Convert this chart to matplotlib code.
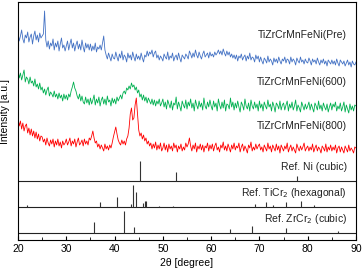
import matplotlib
matplotlib.use('Agg')
import matplotlib.pyplot as plt
from matplotlib.ticker import MultipleLocator
import numpy as np

plt.rcParams['font.family'] = ['Liberation Sans', 'DejaVu Sans']

# 2theta grid (0.25 deg) for the measured patterns
two_theta = np.arange(20, 90.001, 0.25)

# intensities (arbitrary units, stacking offset included)
pre = [207, 199, 204, 210, 201, 197, 205, 202, 208, 198, 203, 206, 196, 204, 209, 200, 205, 198, 207, 202,
       204, 206, 229, 200, 193, 199, 191, 197, 194, 201, 190, 197, 193, 199, 189, 196, 202, 192, 195, 189,
       194, 199, 190, 196, 201, 192, 197, 189, 195, 199, 191, 196, 190, 200, 193, 188, 197, 192, 196, 190,
       196, 189, 194, 190, 197, 188, 193, 191, 195, 190, 197, 204, 190, 185, 181, 187, 183, 179, 186, 182,
       181, 188, 183, 179, 186, 182, 189, 180, 185, 183, 178, 187, 182, 185, 180, 188, 183, 179, 186, 181,
       184, 180, 187, 182, 178, 185, 183, 189, 184, 188, 186, 190, 183, 187, 189, 182, 185, 180, 184, 182,
       179, 186, 183, 181, 188, 180, 184, 182, 187, 179, 183, 185, 180, 187, 182, 178, 185, 183, 181, 186,
       184, 181, 189, 186, 182, 187, 183, 190, 185, 182, 188, 184, 181, 186, 189, 183, 185, 187, 182, 188,
       184, 186, 183, 188, 185, 187, 190, 186, 189, 185, 191, 187, 184, 189, 185, 188, 183, 186, 182, 185,
       181, 185, 179, 184, 182, 186, 180, 183, 185, 179, 184, 181, 187, 180, 183, 182, 178, 185, 181, 184,
       178, 183, 179, 176, 182, 180, 177, 184, 178, 181, 179, 175, 182, 178, 181, 177, 183, 179, 176, 181,
       179, 183, 177, 181, 180, 176, 183, 178, 181, 179, 175, 182, 179, 177, 183, 178, 180, 176, 181, 178,
       177, 182, 179, 175, 181, 178, 180, 176, 182, 178, 175, 180, 177, 181, 176, 179, 174, 180, 178, 176,
       180, 176, 179, 175, 181, 177, 174, 180, 178, 176, 179, 174, 177, 180, 175, 178, 173, 179, 176, 175,
       178]
an600 = [169, 162, 167, 160, 165, 170, 158, 163, 161, 156, 163, 157, 159, 154, 161, 153, 156, 151, 157, 150,
         153, 147, 151, 145, 150, 153, 144, 148, 146, 143, 149, 143, 146, 141, 147, 142, 145, 139, 146, 141,
         145, 140, 146, 143, 149, 153, 158, 152, 149, 144, 141, 146, 139, 144, 138, 136, 143, 137, 141, 135,
         142, 136, 140, 145, 135, 141, 137, 143, 134, 140, 143, 136, 141, 135, 144, 138, 140, 134, 142, 137,
         141, 136, 143, 139, 142, 145, 141, 147, 149, 146, 152, 150, 154, 151, 157, 153, 155, 150, 153, 147,
         150, 143, 146, 140, 145, 139, 143, 137, 142, 139, 136, 141, 135, 140, 134, 139, 136, 141, 134, 137,
         141, 133, 138, 131, 140, 136, 132, 139, 130, 137, 135, 143, 131, 138, 134, 129, 139, 135, 132, 140,
         131, 138, 134, 141, 132, 137, 129, 140, 135, 131, 139, 133, 137, 130, 142, 134, 131, 138, 133, 140,
         134, 130, 139, 133, 137, 129, 141, 135, 131, 138, 132, 140, 129, 136, 135, 131, 142, 133, 138, 130,
         137, 132, 139, 133, 128, 138, 135, 130, 141, 134, 131, 137, 129, 140, 134, 131, 138, 132, 136, 129,
         139, 132, 136, 129, 138, 134, 131, 140, 133, 136, 129, 138, 134, 128, 137, 135, 131, 139, 130, 135,
         137, 130, 135, 139, 129, 136, 132, 138, 130, 134, 140, 129, 135, 132, 128, 138, 134, 130, 136, 131,
         134, 138, 130, 136, 132, 128, 137, 134, 130, 139, 131, 135, 129, 137, 133, 130, 136, 128, 133, 137,
         130, 136, 133, 138, 129, 134, 131, 137, 129, 133, 138, 128, 135, 131, 127, 136, 130, 134, 129, 135,
         134]
an800 = [121, 114, 119, 111, 117, 109, 114, 116, 107, 112, 105, 111, 104, 109, 102, 108, 101, 106, 99, 104,
         103, 98, 101, 95, 102, 97, 94, 100, 96, 101, 93, 99, 95, 101, 94, 98, 92, 99, 95, 97,
         101, 95, 98, 102, 94, 99, 96, 101, 93, 98, 102, 95, 97, 100, 94, 101, 96, 99, 95, 102,
         100, 104, 109, 102, 97, 99, 93, 96, 91, 95, 92, 89, 96, 91, 94, 90, 95, 92, 97, 103,
         108, 113, 106, 100, 97, 95, 100, 96, 99, 95, 101, 104, 112, 126, 132, 120, 122, 135, 142, 126,
         110, 104, 107, 101, 105, 99, 102, 96, 99, 94, 97, 91, 96, 92, 98, 90, 95, 91, 97, 89,
         92, 97, 90, 95, 88, 96, 91, 94, 89, 97, 92, 95, 88, 94, 91, 96, 89, 93, 90, 97,
         93, 96, 102, 94, 89, 95, 91, 97, 88, 94, 91, 96, 90, 95, 88, 94, 92, 97, 89, 95,
         91, 96, 89, 94, 97, 90, 93, 88, 95, 92, 98, 90, 94, 89, 96, 92, 88, 95, 91, 97,
         90, 94, 92, 97, 88, 93, 96, 89, 94, 91, 87, 95, 92, 98, 89, 93, 90, 96, 91, 94,
         96, 90, 93, 88, 95, 92, 89, 97, 91, 94, 88, 95, 92, 89, 96, 90, 94, 87, 95, 92,
         89, 94, 91, 97, 88, 92, 95, 89, 93, 90, 87, 96, 92, 89, 94, 90, 93, 97, 89, 92,
         94, 89, 93, 90, 96, 88, 92, 95, 89, 93, 91, 87, 94, 92, 89, 96, 88, 93, 90, 95,
         89, 93, 90, 95, 87, 92, 94, 88, 93, 90, 87, 94, 91, 88, 95, 89, 92, 90, 87, 93,
         92]

# reference patterns: peak positions and heights
ni_pos = [45.3, 52.7, 77.8]
ni_h = [20, 9, 5]
ticr2_pos = [21.9, 37.0, 40.5, 43.4, 43.8, 44.5, 45.8, 46.2, 46.5, 49.1,
             52.2, 69.0, 71.3, 72.9, 75.4, 78.7, 81.2]
ticr2_h = [2, 5, 10, 3, 22, 15, 4, 6, 6, 1, 1, 3, 5, 2, 5, 6, 2]
zrcr2_pos = [35.7, 42.0, 44.0, 64.0, 68.4, 75.4, 86.2]
zrcr2_h = [11, 22, 6, 4, 7, 5, 2]

labels = ['TiZrCrMnFeNi(Pre)', 'TiZrCrMnFeNi(600)', 'TiZrCrMnFeNi(800)',
          'Ref. Ni (cubic)', 'Ref. TiCr$_2$ (hexagonal)', 'Ref. ZrCr$_2$ (cubic)']
label_y = [205, 158, 114, 73, 47, 21]

fig = plt.figure(figsize=(3.64, 2.78), dpi=100)
ax = fig.add_axes([0.0495, 0.1367, 0.9285, 0.8561])

ax.plot(two_theta, pre, color='#4472C4', lw=0.6)
ax.plot(two_theta, an600, color='#00B050', lw=0.6)
ax.plot(two_theta, an800, color='#FF0000', lw=0.6)

# reference sticks, each on its own baseline
base_ni, base_ti, base_zr = 59, 33, 7
for b in (base_ni, base_ti, base_zr):
    ax.axhline(b, color='#222222', lw=0.8)
ax.vlines(ni_pos, base_ni, np.add(base_ni, ni_h), color='#333333', lw=0.8)
ax.vlines(ticr2_pos, base_ti, np.add(base_ti, ticr2_h), color='#333333', lw=0.8)
ax.vlines(zrcr2_pos, base_zr, np.add(base_zr, zrcr2_h), color='#333333', lw=0.8)

for t, y in zip(labels, label_y):
    ax.text(88.1, y, t, ha='right', va='center', fontsize=7.5, color='#222222')

ax.set_xlim(20, 90)
ax.set_ylim(0, 238)
ax.xaxis.set_major_locator(MultipleLocator(10))
ax.xaxis.set_minor_locator(MultipleLocator(5))
ax.tick_params(axis='x', which='major', direction='in', length=3, labelsize=7.5, pad=3)
ax.tick_params(axis='x', which='minor', direction='in', length=2)
ax.set_yticks([])
ax.set_xlabel('2θ [degree]', fontsize=7.5, labelpad=3)
ax.set_ylabel('Intensity [a.u.]', fontsize=7.5)
ax.yaxis.set_label_coords(-0.025, 0.54)
for s in ax.spines.values():
    s.set_linewidth(0.8)

fig.savefig('out.png', dpi=100)
